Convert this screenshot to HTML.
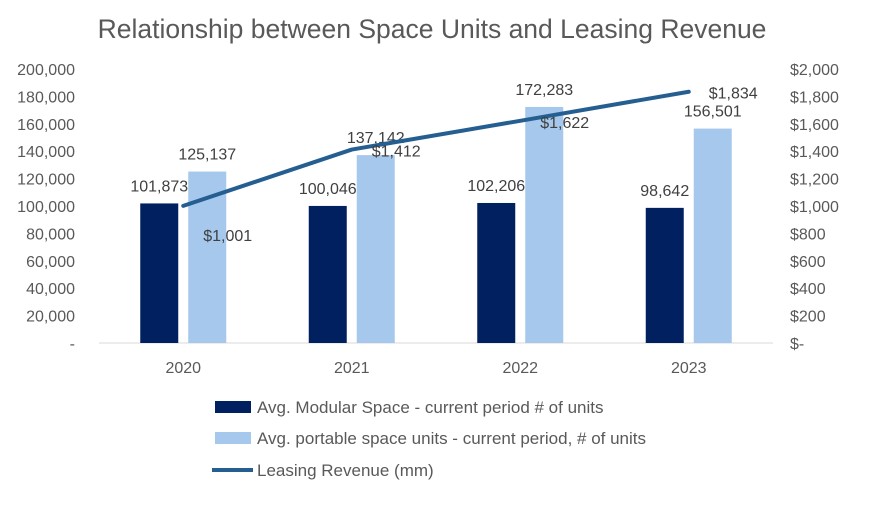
<!DOCTYPE html>
<html><head><meta charset="utf-8"><style>
body{margin:0;background:#fff;}
svg text{font-family:"Liberation Sans",sans-serif;}
</style></head><body>
<svg id="chart" width="870" height="502">
<text x="432" y="38" text-anchor="middle" font-size="26.5" fill="#595959">Relationship between Space Units and Leasing Revenue</text>
<g id="plot"></g>
<g>
<rect x="215" y="401" width="36" height="12" fill="#002060"/>
<text x="257" y="413" font-size="17" fill="#595959">Avg. Modular Space - current period # of units</text>
<rect x="215" y="432" width="36" height="12" fill="#a6c8ec"/>
<text x="257" y="444" font-size="17" fill="#595959">Avg. portable space units - current period, # of units</text>
<line x1="212" y1="470" x2="253" y2="470" stroke="#255e91" stroke-width="4"/>
<text x="257" y="476" font-size="17" fill="#595959">Leasing Revenue (mm)</text>
</g>
</svg>
<script>
const categories=["2020","2021","2022","2023"];
const modular=[101873,100046,102206,98642];
const portable=[125137,137142,172283,156501];
const revenue=[1001,1412,1622,1834];
const leftTicks=[0,20000,40000,60000,80000,100000,120000,140000,160000,180000,200000];
const rightTicks=[0,200,400,600,800,1000,1200,1400,1600,1800,2000];
const NS="http://www.w3.org/2000/svg";
const g=document.getElementById('plot');
const x0=99,x1=773,yb=343,yt=69;
const bw=(x1-x0)/categories.length;
const yL=v=>yb-(v/200000)*(yb-yt);
const yR=v=>yb-(v/2000)*(yb-yt);
const cx=i=>x0+bw*(i+0.5);
function mk(t,a,txt){const e=document.createElementNS(NS,t);for(const k in a)e.setAttribute(k,a[k]);if(txt!==undefined)e.textContent=txt;g.appendChild(e);return e;}
const fmt=v=>v.toLocaleString('en-US');
leftTicks.forEach(v=>{const e=mk('text',{x:75,y:yL(v)+6,'text-anchor':'end','font-size':16,fill:'#595959'},v===0?'-':fmt(v));

});
rightTicks.forEach(v=>{const e=mk('text',{x:790,y:yR(v)+6,'font-size':16,fill:'#595959'},v===0?'$-':'$'+fmt(v));

});
const ax=mk('line',{x1:x0,y1:yb,x2:x1,y2:yb,stroke:'#d9d9d9','stroke-width':1});


const W=38,gap=10;
categories.forEach((c,i)=>{
 const t=mk('text',{x:cx(i),y:373,'text-anchor':'middle','font-size':16,fill:'#595959'},c);
 
 
 const xa=cx(i)-gap/2-W, xb=cx(i)+gap/2;
 const b1=mk('rect',{x:xa,y:yL(modular[i]),width:W,height:yb-yL(modular[i]),fill:'#002060'});
 
 
 const b2=mk('rect',{x:xb,y:yL(portable[i]),width:W,height:yb-yL(portable[i]),fill:'#a6c8ec'});
 
 
 const l1=mk('text',{x:xa+W/2,y:yL(modular[i])-12,'text-anchor':'middle','font-size':16,fill:'#404040'},fmt(modular[i]));
 
 
 const l2=mk('text',{x:xb+W/2,y:yL(portable[i])-12,'text-anchor':'middle','font-size':16,fill:'#404040'},fmt(portable[i]));
 
 
});
const pts=revenue.map((v,i)=>cx(i)+','+yR(v)).join(' ');
const pl=mk('polyline',{points:pts,fill:'none',stroke:'#255e91','stroke-width':4,'stroke-linejoin':'round','stroke-linecap':'round'});


revenue.forEach((v,i)=>{
 const dy=i===0?35:7;
 const t=mk('text',{x:cx(i)+20,y:yR(v)+dy,'font-size':16,fill:'#404040'},'$'+fmt(v));
 
 
});
</script>
</body></html>
